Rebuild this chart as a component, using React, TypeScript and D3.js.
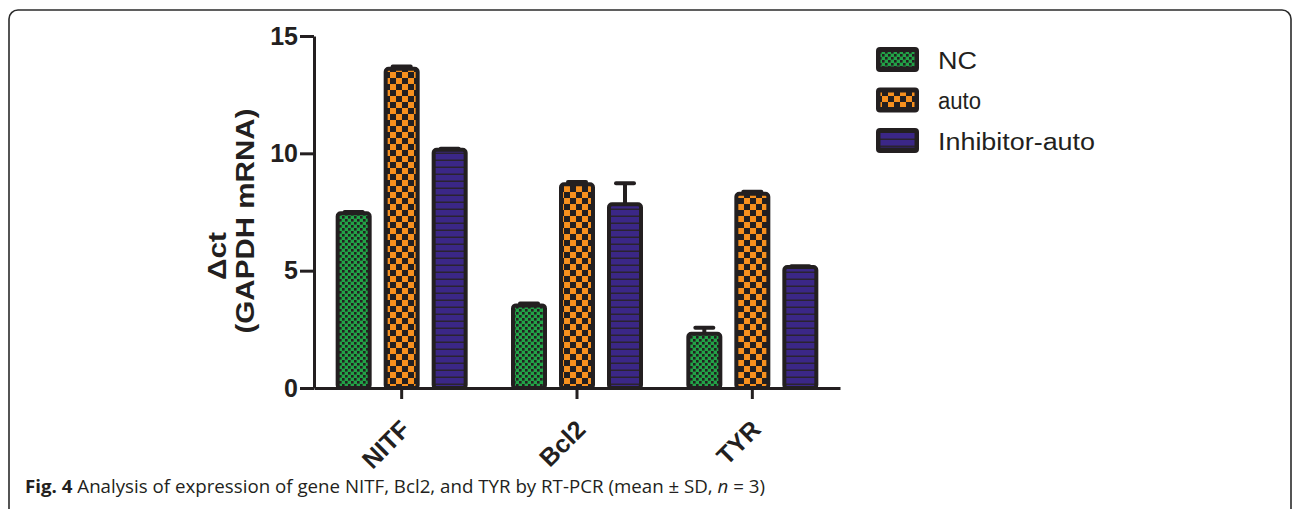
import * as d3 from "d3";
import { useEffect, useRef } from "react";

const categories = ["NITF", "Bcl2", "TYR"];
const seriesNames = ["NC", "auto", "Inhibitor-auto"];
const ncValues = [7.45, 3.52, 2.31];
const ncErrors = [0.05, 0.08, 0.26];
const autoValues = [13.6, 8.68, 8.28];
const autoErrors = [0.1, 0.1, 0.08];
const inhibitorValues = [10.15, 7.83, 5.16];
const inhibitorErrors = [0.05, 0.89, 0.03];
const yTicks = [0, 5, 10, 15];
const legendWidths = [39, 43, 157];

const App = () => {
  const ref = useRef<SVGSVGElement>(null);
  const width = 1292;
  const height = 509;
  const x0 = 314, x1 = 840, yTop = 36, yBottom = 388;
  const dark = "#231f20";

  useEffect(() => {
    const svg = d3.select(ref.current);
    svg.selectAll(".chart").remove();
    const g = svg.append("g").attr("class", "chart");

    const x = d3.scaleBand().domain(categories).range([x0, x1]);
    const xInner = d3.scaleBand().domain(seriesNames).range([-66, 66]).paddingInner(0.25);
    const y = d3.scaleLinear().domain([0, 15]).range([yBottom, yTop]);

    const series = [
      { name: "NC", values: ncValues, errors: ncErrors, fill: "url(#pat-nc)" },
      { name: "auto", values: autoValues, errors: autoErrors, fill: "url(#pat-auto)" },
      { name: "Inhibitor-auto", values: inhibitorValues, errors: inhibitorErrors, fill: "url(#pat-inh)" },
    ];
    const rows = series.flatMap((s) =>
      categories.map((c, i) => ({
        cat: c,
        series: s.name,
        value: s.values[i],
        err: s.errors[i],
        fill: s.fill,
      }))
    );
    const cx = (d) => x(d.cat)! + x.bandwidth() / 2 + xInner(d.series)! + xInner.bandwidth() / 2;
    const sw = 4;

    // error bars (upper only)
    g.selectAll("line.err").data(rows).join("line")
      .attr("x1", cx).attr("x2", cx)
      .attr("y1", (d) => y(d.value)).attr("y2", (d) => y(d.value + d.err))
      .attr("stroke", dark).attr("stroke-width", sw);
    g.selectAll("line.cap").data(rows).join("line")
      .attr("x1", (d) => cx(d) - 9).attr("x2", (d) => cx(d) + 9)
      .attr("y1", (d) => y(d.value + d.err)).attr("y2", (d) => y(d.value + d.err))
      .attr("stroke", dark).attr("stroke-width", sw).attr("stroke-linecap", "round");

    g.selectAll("rect.bar").data(rows).join("rect")
      .attr("x", (d) => cx(d) - xInner.bandwidth() / 2 + sw / 2)
      .attr("width", xInner.bandwidth() - sw)
      .attr("y", (d) => y(d.value))
      .attr("height", (d) => yBottom - y(d.value))
      .attr("rx", 3)
      .attr("fill", (d) => d.fill)
      .attr("stroke", dark).attr("stroke-width", sw);

    // y axis
    const yAxis = d3.axisLeft(y).tickValues(yTicks).tickSize(14).tickSizeOuter(0).tickPadding(2);
    const ya = g.append("g").attr("transform", `translate(${x0},0)`).call(yAxis);
    ya.select(".domain").attr("stroke", dark).attr("stroke-width", 3);
    ya.selectAll(".tick line").attr("stroke", dark).attr("stroke-width", 3);
    ya.selectAll(".tick text")
      .attr("fill", dark)
      .style("font", "bold 25px 'Liberation Sans', Arial, sans-serif");

    // x axis
    const xAxis = d3.axisBottom(x).tickSize(11).tickSizeOuter(0).tickFormat(() => "");
    const xa = g.append("g").attr("transform", `translate(0,${yBottom})`).call(xAxis);
    xa.select(".domain").attr("stroke", dark).attr("stroke-width", 3);
    xa.selectAll(".tick line").attr("stroke", dark).attr("stroke-width", 3);

    g.selectAll("text.xl").data(categories).join("text")
      .attr("transform", (d) => `translate(${x(d)! + x.bandwidth() / 2 + 10},431) rotate(-45)`)
      .attr("text-anchor", "end")
      .attr("fill", dark)
      .style("font", "bold 25px 'Liberation Sans', Arial, sans-serif")
      .text((d) => d);

    // legend
    const lg = g.append("g");
    const legendFills = ["url(#pat-nc)", "url(#pat-auto)", "url(#pat-inh)"];
    seriesNames.forEach((name, i) => {
      const ty = 47 + i * 40.5;
      lg.append("rect").attr("x", 876).attr("y", ty).attr("width", 43).attr("height", 25)
        .attr("rx", 4).attr("fill", dark);
      lg.append("rect").attr("x", 880.5).attr("y", ty + 5).attr("width", 34).attr("height", 14.5)
        .attr("fill", legendFills[i]);
      lg.append("text").attr("x", 938).attr("y", ty + 21.5)
        .attr("fill", dark)
        .attr("textLength", legendWidths[i]).attr("lengthAdjust", "spacingAndGlyphs")
        .style("font", "23px 'Liberation Sans', Arial, sans-serif")
        .text(name);
    });
  }, []);

  return (
    <svg
      ref={ref}
      width={width}
      height={height}
      style={{ position: "absolute", left: 0, top: 0, background: "#fff" }}
    >
      <defs>
        <pattern id="pat-nc" patternUnits="userSpaceOnUse" width="6" height="6">
          <rect width="6" height="6" fill="#22a347" />
          <rect width="2.6" height="2.6" fill={dark} />
          <rect x="3" y="3" width="2.6" height="2.6" fill={dark} />
        </pattern>
        <pattern id="pat-auto" patternUnits="userSpaceOnUse" width="12" height="12">
          <rect width="12" height="12" fill="#f7901e" />
          <rect width="6" height="6" fill={dark} />
          <rect x="6" y="6" width="6" height="6" fill={dark} />
        </pattern>
        <pattern id="pat-inh" patternUnits="userSpaceOnUse" width="7" height="7">
          <rect width="7" height="7" fill="#3b2787" />
          <rect y="5.5" width="7" height="1.5" fill="#2a2330" />
        </pattern>
      </defs>
      <rect x={9} y={10} width={1282} height={560} rx={9} fill="none" stroke="#2b2b2b" strokeWidth={1.6} />
      <text
        transform="translate(217,256) rotate(-90)"
        textAnchor="middle"
        dominantBaseline="central"
        fill={dark}
        textLength={48}
        lengthAdjust="spacingAndGlyphs"
        style={{ font: "bold 25px 'Liberation Sans', Arial, sans-serif" }}
      >
        Δct
      </text>
      <text
        transform="translate(245,221) rotate(-90)"
        textAnchor="middle"
        dominantBaseline="central"
        fill={dark}
        textLength={225}
        lengthAdjust="spacingAndGlyphs"
        style={{ font: "bold 26px 'Liberation Sans', Arial, sans-serif" }}
      >
        (GAPDH mRNA)
      </text>
      <text
        x={25}
        y={493}
        fill={dark}
        textLength={740}
        lengthAdjust="spacingAndGlyphs"
        style={{ font: "18px 'Open Sans', sans-serif" }}
      >
        <tspan fontWeight="bold">Fig. 4</tspan> Analysis of expression of gene NITF, Bcl2, and TYR by RT-PCR (mean ± SD,{" "}
        <tspan fontStyle="italic">n</tspan> = 3)
      </text>
    </svg>
  );
};

export default App;
